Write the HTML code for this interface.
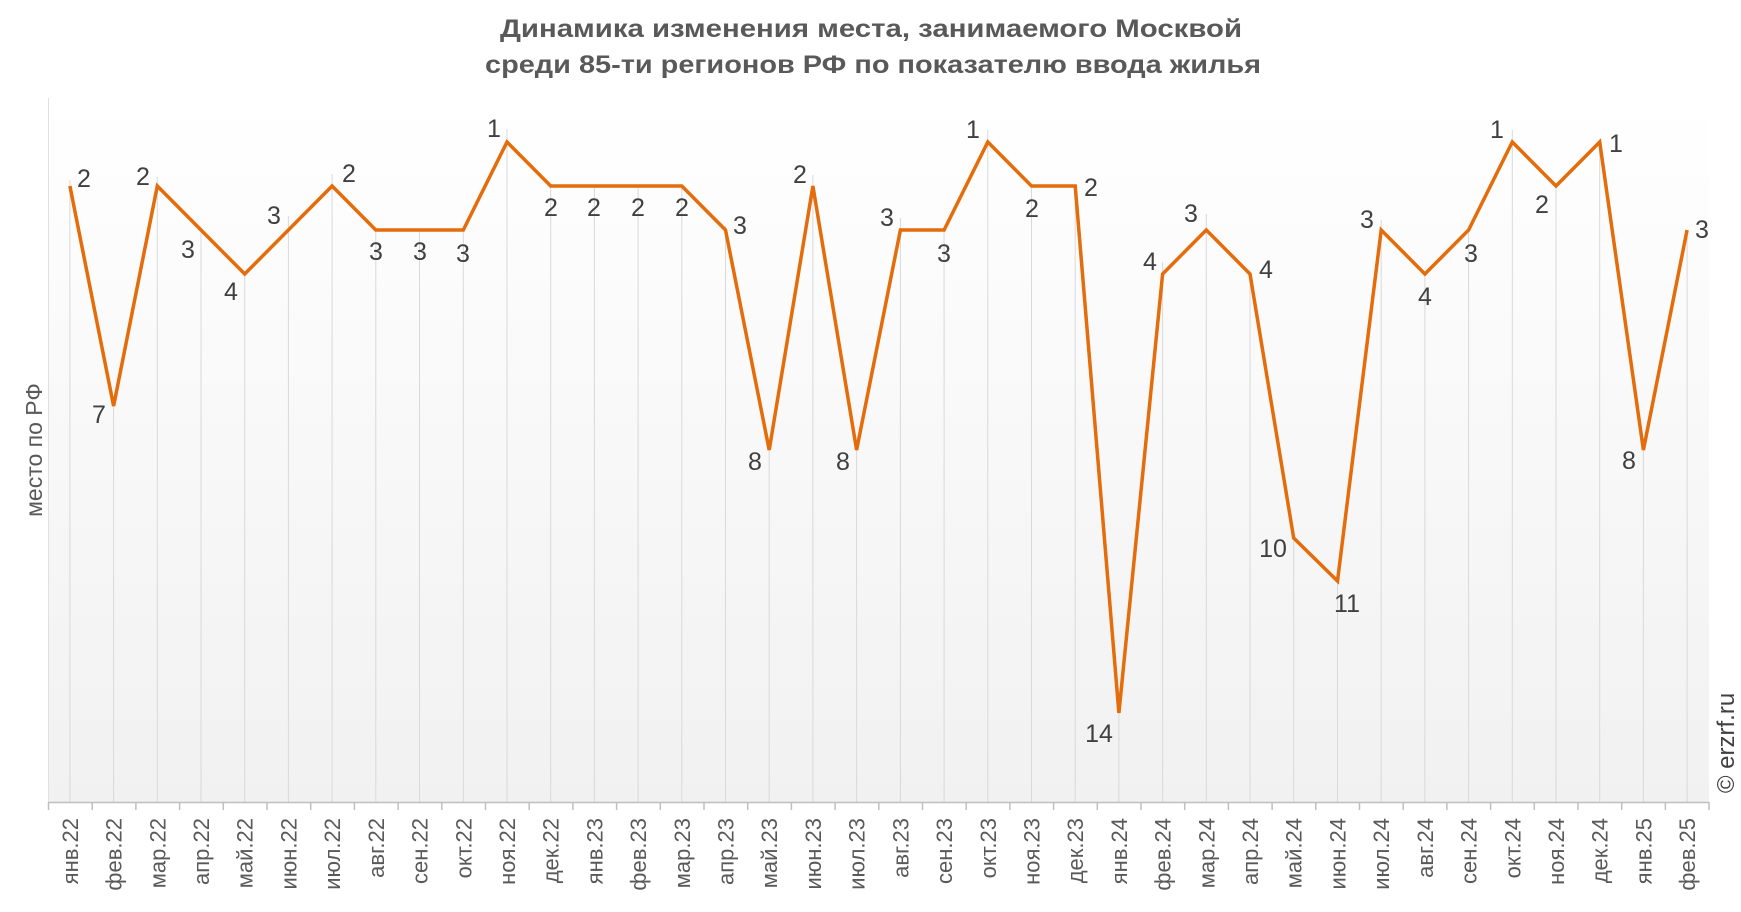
<!DOCTYPE html>
<html><head><meta charset="utf-8"><style>
html,body{margin:0;padding:0;background:#fff;}
svg{display:block;font-family:"Liberation Sans",sans-serif;}
</style></head><body>
<svg width="1741" height="912" viewBox="0 0 1741 912" xmlns="http://www.w3.org/2000/svg">
<defs><linearGradient id="bg" x1="0" y1="0" x2="0" y2="1"><stop offset="0" stop-color="#ffffff"/><stop offset="1" stop-color="#f1f1f1"/></linearGradient></defs>
<rect x="48" y="98" width="1661" height="704" fill="url(#bg)"/>
<line x1="48.5" y1="98" x2="48.5" y2="802" stroke="#e0e0e0" stroke-width="1"/>
<text x="871" y="37" text-anchor="middle" font-size="25" font-weight="bold" fill="#595959" textLength="742" lengthAdjust="spacingAndGlyphs">Динамика изменения места, занимаемого Москвой</text>
<text x="873" y="73" text-anchor="middle" font-size="25" font-weight="bold" fill="#595959" textLength="776" lengthAdjust="spacingAndGlyphs">среди 85-ти регионов РФ по показателю ввода жилья</text>
<g stroke="#d9d9d9" stroke-width="1">
<line x1="69.9" y1="180" x2="69.9" y2="802"/><line x1="113.6" y1="406" x2="113.6" y2="802"/><line x1="157.3" y1="177" x2="157.3" y2="802"/><line x1="201" y1="230" x2="201" y2="802"/><line x1="244.7" y1="274" x2="244.7" y2="802"/><line x1="288.4" y1="216" x2="288.4" y2="802"/><line x1="332.1" y1="174" x2="332.1" y2="802"/><line x1="375.8" y1="230" x2="375.8" y2="802"/><line x1="419.5" y1="230" x2="419.5" y2="802"/><line x1="463.3" y1="230" x2="463.3" y2="802"/><line x1="507" y1="129" x2="507" y2="802"/><line x1="550.7" y1="186" x2="550.7" y2="802"/><line x1="594.4" y1="186" x2="594.4" y2="802"/><line x1="638.1" y1="186" x2="638.1" y2="802"/><line x1="681.8" y1="186" x2="681.8" y2="802"/><line x1="725.5" y1="226" x2="725.5" y2="802"/><line x1="769.2" y1="450" x2="769.2" y2="802"/><line x1="812.9" y1="175" x2="812.9" y2="802"/><line x1="856.6" y1="450" x2="856.6" y2="802"/><line x1="900.4" y1="218" x2="900.4" y2="802"/><line x1="944.1" y1="230" x2="944.1" y2="802"/><line x1="987.8" y1="130" x2="987.8" y2="802"/><line x1="1031.5" y1="186" x2="1031.5" y2="802"/><line x1="1075.2" y1="186" x2="1075.2" y2="802"/><line x1="1118.9" y1="713" x2="1118.9" y2="802"/><line x1="1162.6" y1="262" x2="1162.6" y2="802"/><line x1="1206.3" y1="214" x2="1206.3" y2="802"/><line x1="1250" y1="274" x2="1250" y2="802"/><line x1="1293.7" y1="538" x2="1293.7" y2="802"/><line x1="1337.5" y1="581" x2="1337.5" y2="802"/><line x1="1381.2" y1="220" x2="1381.2" y2="802"/><line x1="1424.9" y1="274" x2="1424.9" y2="802"/><line x1="1468.6" y1="230" x2="1468.6" y2="802"/><line x1="1512.3" y1="130" x2="1512.3" y2="802"/><line x1="1556" y1="186" x2="1556" y2="802"/><line x1="1599.7" y1="142" x2="1599.7" y2="802"/><line x1="1643.4" y1="450" x2="1643.4" y2="802"/><line x1="1687.1" y1="230" x2="1687.1" y2="802"/>
</g>
<line x1="48" y1="802.5" x2="1709" y2="802.5" stroke="#bfbfbf" stroke-width="1.5"/>
<g stroke="#bfbfbf" stroke-width="1.5">
<line x1="48.5" y1="802" x2="48.5" y2="810"/><line x1="92.2" y1="802" x2="92.2" y2="810"/><line x1="135.9" y1="802" x2="135.9" y2="810"/><line x1="179.6" y1="802" x2="179.6" y2="810"/><line x1="223.3" y1="802" x2="223.3" y2="810"/><line x1="267" y1="802" x2="267" y2="810"/><line x1="310.7" y1="802" x2="310.7" y2="810"/><line x1="354.4" y1="802" x2="354.4" y2="810"/><line x1="398.1" y1="802" x2="398.1" y2="810"/><line x1="441.8" y1="802" x2="441.8" y2="810"/><line x1="485.5" y1="802" x2="485.5" y2="810"/><line x1="529.2" y1="802" x2="529.2" y2="810"/><line x1="572.9" y1="802" x2="572.9" y2="810"/><line x1="616.6" y1="802" x2="616.6" y2="810"/><line x1="660.3" y1="802" x2="660.3" y2="810"/><line x1="704" y1="802" x2="704" y2="810"/><line x1="747.7" y1="802" x2="747.7" y2="810"/><line x1="791.4" y1="802" x2="791.4" y2="810"/><line x1="835.1" y1="802" x2="835.1" y2="810"/><line x1="878.8" y1="802" x2="878.8" y2="810"/><line x1="922.5" y1="802" x2="922.5" y2="810"/><line x1="966.2" y1="802" x2="966.2" y2="810"/><line x1="1009.9" y1="802" x2="1009.9" y2="810"/><line x1="1053.6" y1="802" x2="1053.6" y2="810"/><line x1="1097.3" y1="802" x2="1097.3" y2="810"/><line x1="1141" y1="802" x2="1141" y2="810"/><line x1="1184.7" y1="802" x2="1184.7" y2="810"/><line x1="1228.4" y1="802" x2="1228.4" y2="810"/><line x1="1272.1" y1="802" x2="1272.1" y2="810"/><line x1="1315.8" y1="802" x2="1315.8" y2="810"/><line x1="1359.5" y1="802" x2="1359.5" y2="810"/><line x1="1403.2" y1="802" x2="1403.2" y2="810"/><line x1="1446.9" y1="802" x2="1446.9" y2="810"/><line x1="1490.6" y1="802" x2="1490.6" y2="810"/><line x1="1534.3" y1="802" x2="1534.3" y2="810"/><line x1="1578" y1="802" x2="1578" y2="810"/><line x1="1621.7" y1="802" x2="1621.7" y2="810"/><line x1="1665.4" y1="802" x2="1665.4" y2="810"/><line x1="1709" y1="802" x2="1709" y2="810"/>
</g>
<polyline fill="none" stroke="#e46c0a" stroke-width="3.5" stroke-linejoin="miter" points="69.9,186 113.6,406 157.3,186 201,230 244.7,274 288.4,230 332.1,186 375.8,230 419.5,230 463.3,230 507,142 550.7,186 594.4,186 638.1,186 681.8,186 725.5,230 769.2,450 812.9,186 856.6,450 900.4,230 944.1,230 987.8,142 1031.5,186 1075.2,186 1118.9,713 1162.6,274 1206.3,230 1250,274 1293.7,538 1337.5,581 1381.2,230 1424.9,274 1468.6,230 1512.3,142 1556,186 1599.7,142 1643.4,450 1687.1,230"/>
<g font-size="25" fill="#404040" text-anchor="middle" dominant-baseline="central">
<text x="84" y="179">2</text><text x="99" y="415">7</text><text x="143" y="177">2</text><text x="188" y="250">3</text><text x="231" y="292">4</text><text x="274" y="216">3</text><text x="349" y="174">2</text><text x="376" y="252">3</text><text x="420" y="252">3</text><text x="463" y="254">3</text><text x="494" y="129">1</text><text x="551" y="208">2</text><text x="594" y="208">2</text><text x="638" y="208">2</text><text x="682" y="208">2</text><text x="740" y="226">3</text><text x="755" y="462">8</text><text x="800" y="175">2</text><text x="843" y="462">8</text><text x="887" y="218">3</text><text x="944" y="254">3</text><text x="973" y="130">1</text><text x="1032" y="209">2</text><text x="1091" y="188">2</text><text x="1099" y="734">14</text><text x="1150" y="262">4</text><text x="1191" y="214">3</text><text x="1266" y="270">4</text><text x="1273" y="549">10</text><text x="1347" y="604">11</text><text x="1367" y="220">3</text><text x="1425" y="297">4</text><text x="1471" y="254">3</text><text x="1497" y="130">1</text><text x="1542" y="205">2</text><text x="1616" y="144">1</text><text x="1629" y="461">8</text><text x="1702" y="230">3</text>
</g>
<g font-size="22" fill="#595959" text-anchor="end">
<text transform="translate(77.9,818) rotate(-90)">янв.22</text><text transform="translate(121.6,818) rotate(-90)">фев.22</text><text transform="translate(165.3,818) rotate(-90)">мар.22</text><text transform="translate(209,818) rotate(-90)">апр.22</text><text transform="translate(252.7,818) rotate(-90)">май.22</text><text transform="translate(296.4,818) rotate(-90)">июн.22</text><text transform="translate(340.1,818) rotate(-90)">июл.22</text><text transform="translate(383.8,818) rotate(-90)">авг.22</text><text transform="translate(427.5,818) rotate(-90)">сен.22</text><text transform="translate(471.3,818) rotate(-90)">окт.22</text><text transform="translate(515,818) rotate(-90)">ноя.22</text><text transform="translate(558.7,818) rotate(-90)">дек.22</text><text transform="translate(602.4,818) rotate(-90)">янв.23</text><text transform="translate(646.1,818) rotate(-90)">фев.23</text><text transform="translate(689.8,818) rotate(-90)">мар.23</text><text transform="translate(733.5,818) rotate(-90)">апр.23</text><text transform="translate(777.2,818) rotate(-90)">май.23</text><text transform="translate(820.9,818) rotate(-90)">июн.23</text><text transform="translate(864.6,818) rotate(-90)">июл.23</text><text transform="translate(908.4,818) rotate(-90)">авг.23</text><text transform="translate(952.1,818) rotate(-90)">сен.23</text><text transform="translate(995.8,818) rotate(-90)">окт.23</text><text transform="translate(1039.5,818) rotate(-90)">ноя.23</text><text transform="translate(1083.2,818) rotate(-90)">дек.23</text><text transform="translate(1126.9,818) rotate(-90)">янв.24</text><text transform="translate(1170.6,818) rotate(-90)">фев.24</text><text transform="translate(1214.3,818) rotate(-90)">мар.24</text><text transform="translate(1258,818) rotate(-90)">апр.24</text><text transform="translate(1301.7,818) rotate(-90)">май.24</text><text transform="translate(1345.5,818) rotate(-90)">июн.24</text><text transform="translate(1389.2,818) rotate(-90)">июл.24</text><text transform="translate(1432.9,818) rotate(-90)">авг.24</text><text transform="translate(1476.6,818) rotate(-90)">сен.24</text><text transform="translate(1520.3,818) rotate(-90)">окт.24</text><text transform="translate(1564,818) rotate(-90)">ноя.24</text><text transform="translate(1607.7,818) rotate(-90)">дек.24</text><text transform="translate(1651.4,818) rotate(-90)">янв.25</text><text transform="translate(1695.1,818) rotate(-90)">фев.25</text>
</g>
<text transform="translate(42,450) rotate(-90)" font-size="23" fill="#595959" text-anchor="middle">место по РФ</text>
<text transform="translate(1734,743) rotate(-90)" font-size="24" fill="#404040" text-anchor="middle">© erzrf.ru</text>
</svg>
</body></html>
